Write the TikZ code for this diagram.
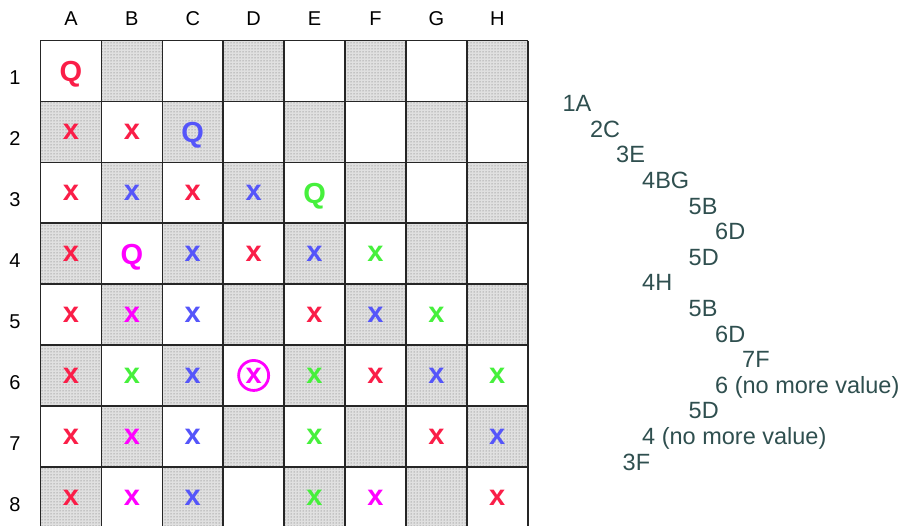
\documentclass[tikz,border=0pt]{standalone}
\usepackage{fontspec}
\setmainfont{Liberation Sans}
\usetikzlibrary{patterns}
\definecolor{qred}{RGB}{250,30,72}
\definecolor{qblue}{RGB}{85,85,250}
\definecolor{qgreen}{RGB}{70,240,60}
\definecolor{qpink}{RGB}{255,0,255}
\definecolor{trace}{RGB}{47,79,79}
\tikzset{
	piece/.style={font=\fontsize{29}{29}\selectfont\bfseries, anchor=base, inner sep=0pt},
	head/.style={font=\fontsize{20}{20}\selectfont, inner sep=0pt},
	tline/.style={anchor=base west, inner sep=0pt, text=trace, font=\fontsize{23.5}{23.5}\selectfont},
	dark/.style={fill=black!12, postaction={pattern=dots, pattern color=black!60}},
	grid/.style={line width=1.6pt, black!85},
}
\begin{document}
\begin{tikzpicture}[x=60.9pt, y=-60.9pt]
			\useasboundingbox (-0.665,-0.665) rectangle (14.179,7.972);
			% shaded squares
			\foreach \c in {1,...,8}
				\foreach \r in {1,...,8}{
					\pgfmathparse{int(mod(\c+\r,2))}
					\ifnum\pgfmathresult=1 \path[dark] (\c-1,\r-1) rectangle (\c,\r); \fi
				}
			\foreach \i in {0,...,8}{
				\draw[grid] (\i,0) -- (\i,8);
				\draw[grid] (0,\i) -- (8,\i);
			}
			\foreach \l [count=\c] in {A,B,C,D,E,F,G,H}
				\node[head] (col\l) at (\c-0.5,-0.355) {\l};
			\foreach \r in {1,...,8}
				\node[head] (row\r) at (-0.419,\r-0.385) {\r};
			% queens
			\node[piece, text=qred] (qa1) at (0.5,0.67) {Q};
			\node[piece, text=qblue] (qc2) at (2.5,1.67) {Q};
			\node[piece, text=qgreen] (qe3) at (4.5,2.67) {Q};
			\node[piece, text=qpink] (qb4) at (1.5,3.67) {Q};
			% attacked squares
			\foreach \c/\r in {1/2,2/2,1/3,3/3,1/4,4/4,1/5,5/5,1/6,6/6,1/7,7/7,1/8,8/8}
				\node[piece, text=qred] (x\c\r) at (\c-0.5,\r-0.367) {x};
			\foreach \c/\r in {2/3,4/3,3/4,5/4,3/5,6/5,3/6,7/6,3/7,8/7,3/8}
				\node[piece, text=qblue] (x\c\r) at (\c-0.5,\r-0.367) {x};
			\foreach \c/\r in {6/4,7/5,2/6,5/6,8/6,5/7,5/8}
				\node[piece, text=qgreen] (x\c\r) at (\c-0.5,\r-0.367) {x};
			\foreach \c/\r in {2/5,2/7,2/8,6/8}
				\node[piece, text=qpink] (x\c\r) at (\c-0.5,\r-0.367) {x};
			\node[piece, anchor=center, circle, draw=qpink, text=qpink, line width=2.8pt, minimum size=30pt] (x46) at (3.5,5.5) {x};
			% search trace
			\node[tline] (t1) at (8.571,1.169) {1A};
			\node[tline] (t2) at (9.022,1.589) {2C};
			\node[tline] (t3) at (9.450,2.010) {3E};
			\node[tline] (t4) at (9.877,2.430) {4BG};
			\node[tline] (t5) at (10.640,2.850) {5B};
			\node[tline] (t6) at (11.076,3.271) {6D};
			\node[tline] (t7) at (10.640,3.691) {5D};
			\node[tline] (t8) at (9.877,4.112) {4H};
			\node[tline] (t9) at (10.640,4.532) {5B};
			\node[tline] (t10) at (11.076,4.952) {6D};
			\node[tline] (t11) at (11.519,5.373) {7F};
			\node[tline] (t12) at (11.076,5.793) {6 (no more value)};
			\node[tline] (t13) at (10.640,6.213) {5D};
			\node[tline] (t14) at (9.877,6.634) {4 (no more value)};
			\node[tline] (t15) at (9.557,7.054) {3F};
		\end{tikzpicture}
\end{document}
